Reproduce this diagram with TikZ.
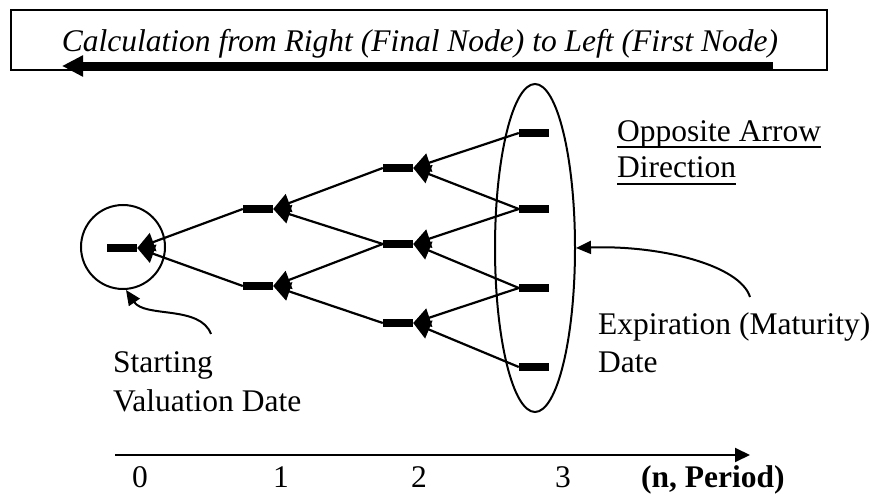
\documentclass[tikz,border=0pt]{standalone}
\usepackage{fontspec}
\setmainfont{Liberation Serif}
\usetikzlibrary{arrows.meta,shapes.geometric}
\begin{document}
\begin{tikzpicture}[x=1pt,y=-1pt,>={Triangle[length=17pt,width=19pt]},font=\fontsize{31.5}{38}\selectfont,
	bar/.style={fill,rectangle,inner sep=0,minimum width=30pt,minimum height=8.5pt},
	edge/.style={->,line width=2.2pt},
	curvy/.style={-{Triangle[length=15pt,width=13pt]},line width=2pt},
	txt/.style={inner sep=0,anchor=base west}]
	\useasboundingbox (0,0) rectangle (876,502);
	% heading box and long arrow
	\node[draw,line width=1.6pt,inner sep=0,minimum width=816pt,minimum height=60pt] (box) at (419,40) {};
	\node[inner sep=0,anchor=base,font=\fontsize{31.5}{38}\selectfont\itshape] (head) at (420,52) {Calculation from Right (Final Node) to Left (First Node)};
	\coordinate (h1) at (773,66); \coordinate (h0) at (62,66);
	\draw[-{Triangle[length=21pt,width=20pt]},line width=7pt] (h1)--(h0);
	% tree
	\node[bar] (c0) at (122,248) {};
	\node[bar] (c1a) at (258,209) {}; \node[bar] (c1b) at (258,286) {};
	\node[bar] (c2a) at (398,168) {}; \node[bar] (c2b) at (398,244) {}; \node[bar] (c2c) at (398,323) {};
	\node[bar] (c3a) at (534,133) {}; \node[bar] (c3b) at (534,209) {}; \node[bar] (c3c) at (534,288) {}; \node[bar] (c3d) at (534,367) {};
	\draw[edge] (c3a.west)--(c2a.east); \draw[edge] (c3b.west)--(c2a.east);
	\draw[edge] (c3b.west)--(c2b.east); \draw[edge] (c3c.west)--(c2b.east);
	\draw[edge] (c3c.west)--(c2c.east); \draw[edge] (c3d.west)--(c2c.east);
	\draw[edge] (c2a.west)--(c1a.east); \draw[edge] (c2b.west)--(c1a.east);
	\draw[edge] (c2b.west)--(c1b.east); \draw[edge] (c2c.west)--(c1b.east);
	\draw[edge] (c1a.west)--(c0.east); \draw[edge] (c1b.west)--(c0.east);
	\node[draw,circle,line width=2pt,minimum size=84pt,inner sep=0] (start) at (123,247) {};
	\node[draw,ellipse,line width=2pt,minimum width=80pt,minimum height=328pt,inner sep=0] (expiry) at (535,248) {};
	% labels
	\node[txt] (opp1) at (617,142) {Opposite Arrow};
	\node[txt] (opp2) at (617,178) {Direction};
	\draw[line width=1.6pt] ([yshift=-5pt]opp1.base west)--([yshift=-5pt]opp1.base east);
	\draw[line width=1.6pt] ([yshift=-6pt]opp2.base west)--([yshift=-6pt]opp2.base east);
	\node[txt] (exp1) at (598,335) {Expiration (Maturity)};
	\node[txt] (exp2) at (598,373) {Date};
	\node[txt] (st1) at (113,373) {Starting};
	\node[txt] (st2) at (113,412) {Valuation Date};
	\coordinate (s0) at (211,334); \coordinate (e0) at (750,297);
	\draw[curvy] (s0) .. controls (200,305) and (145,318) .. ([xshift=3pt]start.south);
	\draw[curvy] (e0) .. controls (740,265) and (660,245) .. (expiry.east);
	% period axis
	\coordinate (ax0) at (115,455); \coordinate (ax1) at (750,455);
	\draw[-{Triangle[length=15pt,width=14pt]},line width=2pt] (ax0)--(ax1);
	\node[inner sep=0,anchor=base] (n0) at (140,488) {0};
	\node[inner sep=0,anchor=base] (n1) at (281,488) {1};
	\node[inner sep=0,anchor=base] (n2) at (419,488) {2};
	\node[inner sep=0,anchor=base] (n3) at (563,488) {3};
	\node[txt,font=\fontsize{31.5}{38}\selectfont\bfseries] (per) at (641,488) {(n, Period)};
\end{tikzpicture}
\end{document}
